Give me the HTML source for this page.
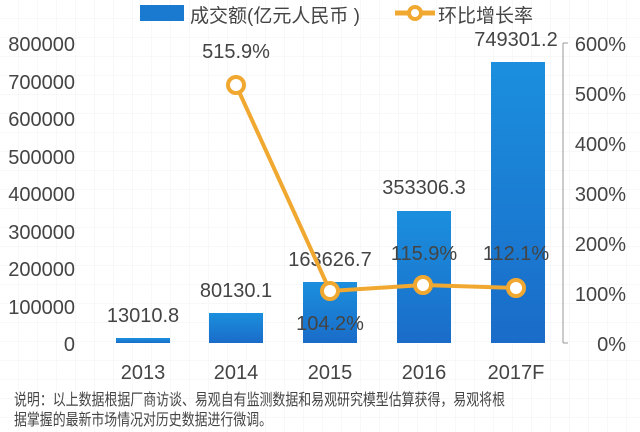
<!DOCTYPE html>
<html><head><meta charset="utf-8"><style>
body{margin:0;background:#fff}
svg{display:block}
text{font-family:"Liberation Sans","Noto Sans CJK SC",sans-serif;fill:#444}
</style></head><body>
<svg width="640" height="432" viewBox="0 0 640 432">
<defs>
<pattern id="g" width="19" height="19" patternUnits="userSpaceOnUse"><path d="M19 0V19H0" fill="none" stroke="#eef0f3" stroke-width="1"/></pattern>
<linearGradient id="b" x1="0" y1="0" x2="0" y2="1"><stop offset="0" stop-color="#1b8fde"/><stop offset="1" stop-color="#1a6cc8"/></linearGradient>
</defs>
<rect width="640" height="432" fill="url(#g)"/>
<rect x="140" y="5" width="44" height="16" fill="#1a7ad0"/>
<text x="190" y="22" font-size="19">成交额(亿元人民币 )</text>
<line x1="395" y1="13" x2="435" y2="13" stroke="#f0a830" stroke-width="5"/>
<circle cx="415" cy="13" r="6" fill="#fff" stroke="#f0a830" stroke-width="4"/>
<text x="438" y="22" font-size="19">环比增长率</text>
<g font-size="20" text-anchor="end">
<text x="75" y="51">800000</text><text x="75" y="89">700000</text><text x="75" y="126">600000</text><text x="75" y="164">500000</text><text x="75" y="201">400000</text><text x="75" y="239">300000</text><text x="75" y="276">200000</text><text x="75" y="314">100000</text><text x="75" y="351">0</text>
</g>
<g font-size="20" text-anchor="end">
<text x="626" y="51">600%</text><text x="626" y="101">500%</text><text x="626" y="151">400%</text><text x="626" y="201">300%</text><text x="626" y="251">200%</text><text x="626" y="301">100%</text><text x="626" y="351">0%</text>
</g>
<line x1="563" y1="43" x2="563" y2="343" stroke="#999" stroke-width="1"/>
<g stroke="#999"><line x1="563" y1="43" x2="568" y2="43"/><line x1="563" y1="343" x2="568" y2="343"/></g>
<rect x="116" y="338" width="54" height="5" fill="url(#b)"/>
<rect x="209" y="313" width="54" height="30" fill="url(#b)"/>
<rect x="303" y="282" width="54" height="61" fill="url(#b)"/>
<rect x="397" y="211" width="54" height="132" fill="url(#b)"/>
<rect x="491" y="62" width="54" height="281" fill="url(#b)"/>
<g font-size="20" text-anchor="middle">
<text x="143" y="322">13010.8</text>
<text x="236" y="297">80130.1</text>
<text x="330" y="266">163626.7</text>
<text x="424" y="194">353306.3</text>
<text x="516" y="46">749301.2</text>
<text x="236" y="58">515.9%</text>
<text x="330" y="330">104.2%</text>
<text x="424" y="260">115.9%</text>
<text x="516" y="260">112.1%</text>
</g>
<polyline points="236,85 330,291 423,285 516,288" fill="none" stroke="#f0a830" stroke-width="4"/>
<g fill="#fff" stroke="#f0a830" stroke-width="4">
<circle cx="236" cy="85" r="8"/><circle cx="330" cy="291" r="8"/><circle cx="423" cy="285" r="8"/><circle cx="516" cy="288" r="8"/>
</g>
<g font-size="20" text-anchor="middle">
<text x="143" y="379">2013</text><text x="236" y="379">2014</text><text x="330" y="379">2015</text><text x="424" y="379">2016</text><text x="516" y="379">2017F</text>
</g>
<text x="14" y="405" font-size="16" textLength="491" lengthAdjust="spacingAndGlyphs">说明：以上数据根据厂商访谈、易观自有监测数据和易观研究模型估算获得，易观将根</text>
<text x="14" y="425" font-size="16" textLength="258" lengthAdjust="spacingAndGlyphs">据掌握的最新市场情况对历史数据进行微调。</text>
</svg>
</body></html>
